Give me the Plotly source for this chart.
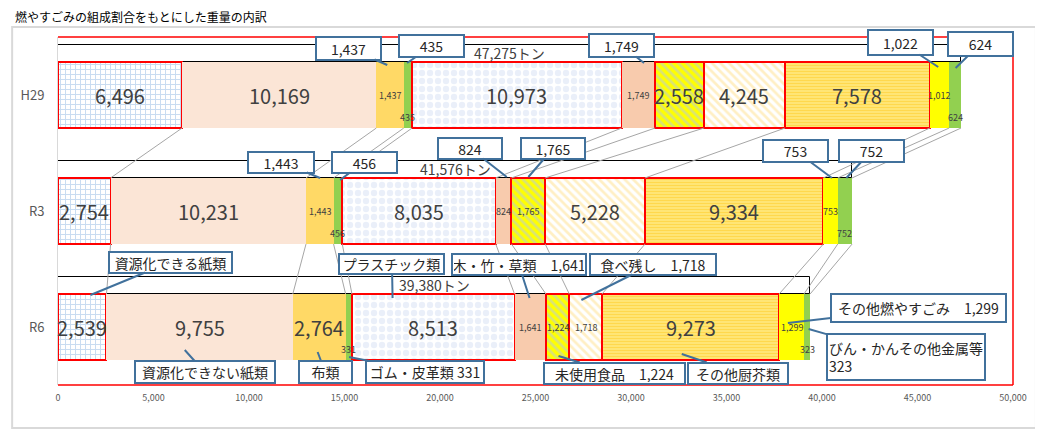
import numpy as np
import plotly.graph_objects as go

# 年度ごとの燃やすごみ組成（トン）
years = ["H29", "R3", "R6"]
categories = ["資源化できる紙類", "資源化できない紙類", "布類", "ゴム・皮革類", "プラスチック類",
              "木・竹・草類", "未使用食品", "食べ残し", "その他厨芥類", "その他燃やすごみ",
              "びん・かんその他金属等"]
h29 = [6496, 10169, 1437, 435, 10973, 1749, 2558, 4245, 7578, 1012, 624]
r3 = [2754, 10231, 1443, 456, 8035, 824, 1765, 5228, 9334, 753, 752]
r6 = [2539, 9755, 2764, 331, 8513, 1641, 1224, 1718, 9273, 1299, 323]
totals = [47275, 41576, 39380]
x_ticks = [0, 5000, 10000, 15000, 20000, 25000, 30000, 35000, 40000, 45000, 50000]

values = np.array([h29, r3, r6])
starts = np.cumsum(values, axis=1) - values
ends = np.cumsum(values, axis=1)

FONT = "Noto Sans CJK JP"
RED = "#FF0000"
CALLOUT = "#41719C"
BAR_W = 0.57
BOX_W = 0.147

# plot area in window pixels: x 55..1013, y 37..385
def px2x(px):
    return (px - 55) * 50000 / 958

def py2y(py):
    return (py - 37) / 116 - 0.5

styles = [
    dict(color="white", pattern=dict(shape="+", fgcolor="#8FB8E3", bgcolor="white", size=5, solidity=0.35), red=True),
    dict(color="#FBE5D6", red=False),
    dict(color="#FFD966", red=False),
    dict(color="#92D050", red=False),
    dict(color="white", pattern=dict(shape=".", fgcolor="#D6DFF3", bgcolor="white", size=8, solidity=0.5), red=True),
    dict(color="#F8CBAD", red=False),
    dict(color="#FFFF00", pattern=dict(shape="\\", fgcolor="#B4C7E7", bgcolor="#FFFF00", size=6, solidity=0.45), red=True),
    dict(color="white", pattern=dict(shape="\\", fgcolor="#FFE08A", bgcolor="white", size=6, solidity=0.45), red=True),
    dict(color="#FFC000", pattern=dict(shape="-", fgcolor="#FFC000", bgcolor="#FFF09A", size=3, solidity=0.65), red=True),
    dict(color="#FFFF00", red=False),
    dict(color="#92D050", red=False),
]

fig = go.Figure()

# 合計の白い枠
fig.add_trace(go.Bar(
    x=totals, y=[i - BAR_W / 2 - BOX_W / 2 for i in range(3)], base=[0, 0, 0],
    orientation="h", width=BOX_W,
    marker=dict(color="white", line=dict(color="black", width=1)),
    hoverinfo="skip"))

for c, name in enumerate(categories):
    st = styles[c]
    marker = dict(color=st["color"],
                  line=dict(color=RED if st["red"] else st["color"], width=2 if st["red"] else 0))
    if "pattern" in st:
        marker["pattern"] = st["pattern"]
    fig.add_trace(go.Bar(
        x=values[:, c], y=list(range(3)), base=starts[:, c],
        orientation="h", width=BAR_W, name=name, marker=marker))

# 区分線（系列線）
for r in range(2):
    for c in range(len(categories)):
        fig.add_trace(go.Scatter(
            x=[ends[r, c], ends[r + 1, c]], y=[r + BAR_W / 2, r + 1 - BAR_W / 2],
            mode="lines", line=dict(color="#A6A6A6", width=1), hoverinfo="skip"))

annotations = []

# バー内の数値
inner_override = {(0, 9): "1,012"}
low_cats = [3, 10]
for r in range(3):
    for c in range(len(categories)):
        v = values[r, c]
        txt = inner_override.get((r, c), f"{v:,}")
        big = v >= 2000
        annotations.append(dict(
            x=starts[r, c] + v / 2, y=r, xref="x", yref="y", text=txt, showarrow=False,
            yshift=-22 if (c in low_cats and not big) else 0,
            font=dict(family=FONT, size=20 if big else 9, color="#404040")))
    annotations.append(dict(
        x=totals[r] / 2, y=r - BAR_W / 2 - BOX_W / 2, xref="x", yref="y",
        text=f"{totals[r]:,}トン", showarrow=False,
        font=dict(family=FONT, size=14, color="#404040")))

# 吹き出し: (行, 区分, 区分内位置, 中心からのyずれpx, 文字, 枠中心px x, y, 幅, 高さ)
callouts = [
    (0, 2, 0.40, -30, "1,437", 346, 48, 65, 23),
    (0, 3, 0.40, -32, "435", 430, 46, 65, 22),
    (0, 5, 0.67, -32, "1,749", 620, 45, 65, 23),
    (0, 9, 0.44, -28, "1,022", 900, 42, 65, 25),
    (0, 10, 0.55, -27, "624", 980, 44, 65, 24),
    (1, 2, 0.51, -33, "1,443", 279, 162, 66, 21),
    (1, 3, 0.75, -31, "456", 362, 162, 65, 21),
    (1, 5, 0.70, -34, "824", 468, 148, 64, 21),
    (1, 6, 0.50, -34, "1,765", 552, 148, 64, 21),
    (1, 9, 0.60, -33, "753", 795, 151, 65, 22),
    (1, 10, 0.60, -33, "752", 871, 151, 65, 22),
    (2, 0, 0.67, -32, "資源化できる紙類", 168, 262, 123, 21),
    (2, 1, 0.42, 23, "資源化できない紙類", 202, 372, 140, 22),
    (2, 2, 0.47, 25, "布類", 323, 372, 53, 22),
    (2, 3, 0.55, 30, "ゴム・皮革類 331", 423, 372, 118, 22),
    (2, 4, 0.25, -29, "プラスチック類", 390, 264, 105, 20),
    (2, 5, 0.48, -29, "木・竹・草類\u30001,641", 517, 264, 134, 21),
    (2, 7, 0.37, -27, "食べ残し\u30001,718", 652, 264, 126, 21),
    (2, 6, 0.54, 29, "未使用食品\u30001,224", 613, 373, 141, 21),
    (2, 8, 0.45, 27, "その他厨芥類", 737, 373, 100, 21),
    (2, 9, 0.35, -4, "その他燃やすごみ\u30001,299", 918, 308, 175, 28),
    (2, 10, 0.75, 2, "びん・かんその他金属等<br>323", 906, 357, 158, 46),
]
for r, c, fx, dy, txt, cx, cy, w, h in callouts:
    annotations.append(dict(
        x=starts[r, c] + fx * values[r, c], y=r + dy / 116, xref="x", yref="y",
        ax=px2x(cx), ay=py2y(cy), axref="x", ayref="y",
        text=txt, showarrow=True, arrowhead=0, arrowwidth=2, arrowcolor=CALLOUT, standoff=0,
        bordercolor=CALLOUT, borderwidth=2, borderpad=1, bgcolor="white",
        width=w - 4, height=h - 4, align="left" if "<br>" in txt else "center",
        font=dict(family=FONT, size=14, color="#262626")))

annotations.append(dict(
    x=(10 - 55) / 958, y=(385 - 17) / 348, xref="paper", yref="paper",
    xanchor="left", yanchor="middle", showarrow=False,
    text="燃やすごみの組成割合をもとにした重量の内訳",
    font=dict(family=FONT, size=12, color="black")))

shapes = [
    # 外枠
    dict(type="rect", xref="paper", yref="paper", x0=(9 - 55) / 958, x1=(1036 - 55) / 958,
         y0=(385 - 428) / 348, y1=(385 - 27) / 348, line=dict(color="#D9D9D9", width=2), layer="below"),
    # プロット領域の赤枠（上・右・下）
    dict(type="line", xref="paper", yref="paper", x0=0, x1=1, y0=1, y1=1, line=dict(color=RED, width=1.5)),
    dict(type="line", xref="paper", yref="paper", x0=1, x1=1, y0=0, y1=1, line=dict(color=RED, width=1.5)),
    dict(type="line", xref="paper", yref="paper", x0=0, x1=1, y0=0, y1=0, line=dict(color=RED, width=1.5)),
]

# the page body has an 8px margin, so the figure is 8px smaller and margins reduced
fig.update_layout(
    width=1035, height=426,
    margin=dict(l=47, r=30, t=29, b=49),
    barmode="overlay", bargap=0,
    showlegend=False,
    paper_bgcolor="white", plot_bgcolor="white",
    font=dict(family=FONT),
    annotations=annotations, shapes=shapes,
    xaxis=dict(range=[0, 50000], tickvals=x_ticks, tickformat=",", showgrid=False, zeroline=False,
               showline=False, ticks="", ticklabelstandoff=6,
               tickfont=dict(family=FONT, size=9, color="#595959")),
    yaxis=dict(range=[2.5, -0.5], tickvals=[0, 1, 2], ticktext=years, showgrid=False, zeroline=False,
               showline=True, linecolor="#D9D9D9", linewidth=1, ticks="", ticklabelstandoff=10,
               tickfont=dict(family=FONT, size=13, color="#595959")),
)

fig.write_html("out.html")
